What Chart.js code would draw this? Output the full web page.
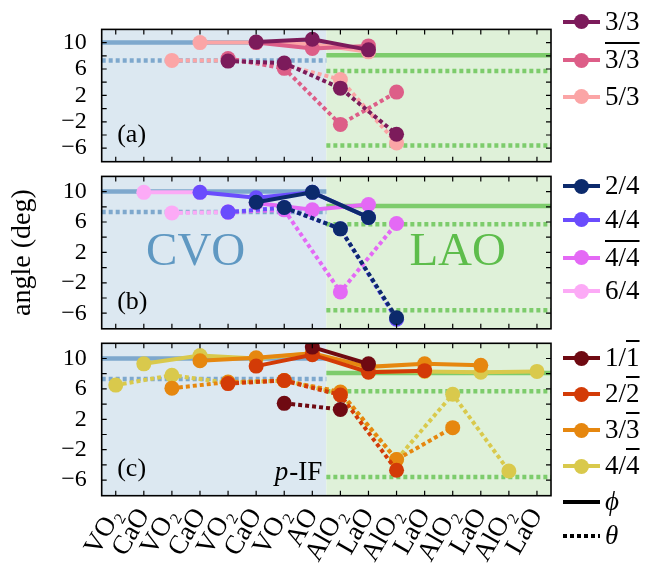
<!DOCTYPE html>
<html><head><meta charset="utf-8">
<script src="https://cdn.jsdelivr.net/npm/chart.js@4.4.1/dist/chart.umd.min.js"></script>
<style>
html,body{margin:0;padding:0;background:#fff;}
#wrap{position:relative;width:648px;height:563px;overflow:hidden;font-family:"Liberation Serif",serif;}
canvas{position:absolute;left:0;top:0;}
.lg{position:absolute;left:563px;height:0;width:85px;}
.lg .ln{position:absolute;left:0;top:-2px;width:37px;height:4px;}
.lg .dot{position:absolute;left:11px;top:-7.5px;width:15px;height:15px;border-radius:50%;}
.lg .tx{position:absolute;left:42px;top:-17px;font-size:27px;line-height:32px;white-space:nowrap;color:#000;}
.ov{text-decoration:overline;text-decoration-thickness:1.5px;}
.it{font-style:italic;}
</style>
</head><body>
<div id="wrap">
<canvas id="cA" width="648" height="563"></canvas>
<canvas id="cB" width="648" height="563"></canvas>
<canvas id="cC" width="648" height="563"></canvas>
<div id="legend"></div>
</div>
<script>
// ---------- data ----------
const _ = null;
const xLabels = ['VO₂','CaO','VO₂','CaO','VO₂','CaO','VO₂','AO','AlO₂','LaO','AlO₂','LaO','AlO₂','LaO','AlO₂','LaO'];
const yTickValues = [-6, -2, 2, 6, 10];
const yMinorValues = [-6, -4, -2, 0, 2, 4, 6, 8, 10];
// bulk reference angles
const cvoPhi = 10.0, cvoTheta = 7.3;
const laoPhi = 8.1, laoThetaPos = 5.7, laoThetaNeg = -5.6;

// panel (a)               0  1  2   3    4    5    6    7    8    9    10  11 12 13 14 15
const a33Phi      = [_, _, _,   _,   _, 10.1,   _, 10.5,   _,  8.9,    _, _, _, _, _, _];
const a33Theta    = [_, _, _,   _, 7.2,    _, 6.9,    _, 3.1,    _, -3.9, _, _, _, _, _];
const a33bPhi     = [_, _, _,   _,   _, 10.0,   _,  9.1,   _,  9.5,    _, _, _, _, _, _];
const a33bTheta   = [_, _, _,   _, 7.6,    _, 6.1,    _,-2.4,    _,  2.5, _, _, _, _, _];
const a53Phi      = [_, _, _,10.0,   _, 10.0,   _,  9.8,   _,  8.6,    _, _, _, _, _, _];
const a53Theta    = [_, _, 7.3, _, 7.3,    _, 6.6,    _, 4.4,    _, -5.2, _, _, _, _, _];

// panel (b)
const b24Phi      = [_, _, _,   _,   _,  8.6,   _,  9.9,   _,  6.6,    _, _, _, _, _, _];
const b24Theta    = [_, _, _,   _,   _,    _, 7.9,    _, 5.1,    _, -6.6, _, _, _, _, _];
const b44Phi      = [_, _, _, 9.9,   _,  9.2,   _,  9.9,   _,  6.6,    _, _, _, _, _, _];
const b44Theta    = [_, _, _,   _, 7.3,    _, 7.9,    _, 5.1,    _, -6.8, _, _, _, _, _];
const b44bPhi     = [_, _, _,   _,   _,  8.5,   _,  7.6,   _,  8.3,    _, _, _, _, _, _];
const b44bTheta   = [_, _, _,   _, 7.3,    _, 7.6,    _,-3.2,    _,  5.8, _, _, _, _, _];
const b64Phi      = [_, 9.9, _, 9.9, _,    _,   _,    _,   _,    _,    _, _, _, _, _, _];
const b64Theta    = [_, _, 7.2, _, 7.3,    _,   _,    _,   _,    _,    _, _, _, _, _, _];

// panel (c)
const c11Phi      = [_, _, _,   _,   _,    _,   _, 11.5,   _,  9.3,    _, _, _, _, _, _];
const c11Theta    = [_, _, _,   _,   _,    _, 4.1,    _, 3.3,    _,    _, _, _, _, _, _];
const c22Phi      = [_, _, _,   _,   _,  9.0,   _, 10.5,   _,  8.2,    _, 8.4, _, _, _, _];
const c22Theta    = [_, _, _,   _, 6.7,    _, 7.1,    _, 5.2,    _, -4.7, _, _, _, _, _];
const c33Phi      = [_, _, _, 9.7,   _, 10.1,   _, 10.7,   _,  8.9,    _, 9.3, _, 9.1, _, _];
const c33Theta    = [_, _, 6.1, _, 6.9,    _, 7.1,    _, 5.6,    _, -3.3, _, 0.9, _, _, _];
const c44Phi      = [_, 9.3, _,10.4, _, 10.0,   _, 10.7,   _,  8.3,    _, 8.3, _, 8.2, _, 8.3];
const c44Theta    = [6.5, _, 7.8, _, 6.8,  _, 7.1,    _, 5.4,    _, -3.3, _, 5.3, _, -4.8, _];

// ---------- series ----------
const seriesA = [
  {label:'3/3', color:'#7c1b5b', phi:a33Phi, theta:a33Theta},
  {label:'<span class="ov">3/3</span>', color:'#dd5e88', phi:a33bPhi, theta:a33bTheta},
  {label:'5/3', color:'#fba5a6', phi:a53Phi, theta:a53Theta}
];
const seriesB = [
  {label:'2/4', color:'#0c2a6c', phi:b24Phi, theta:b24Theta},
  {label:'4/4', color:'#6a4cfd', phi:b44Phi, theta:b44Theta},
  {label:'<span class="ov">4/4</span>', color:'#e469f5', phi:b44bPhi, theta:b44bTheta},
  {label:'6/4', color:'#fcaaf6', phi:b64Phi, theta:b64Theta}
];
const seriesC = [
  {label:'1/<span class="ov">1</span>', color:'#6f0a12', phi:c11Phi, theta:c11Theta},
  {label:'2/<span class="ov">2</span>', color:'#d33b07', phi:c22Phi, theta:c22Theta},
  {label:'3/<span class="ov">3</span>', color:'#e6870f', phi:c33Phi, theta:c33Theta},
  {label:'4/<span class="ov">4</span>', color:'#d9c94c', phi:c44Phi, theta:c44Theta}
];

// ---------- styling ----------
const FONT = '"Liberation Serif", serif';
const CVO_BG = '#dce8f1', LAO_BG = '#dff1d9';
const CVO_LINE = '#7ea8cd', LAO_LINE = '#7dcc6c';
const DOT = [4, 3];

function pts(arr){ return arr.map((v,i)=> v==null ? null : {x:i, y:v}).filter(Boolean); }

function refSets(){
  const mk = (x0,x1,y,color,dash)=>({data:[{x:x0,y:y},{x:x1,y:y}], borderColor:color, borderWidth:4.5,
    borderDash:dash||[], pointRadius:0, order:100, clip:0, borderCapStyle:'butt'});
  return [
    mk(-0.5, 7.5, cvoPhi, CVO_LINE),
    mk(-0.5, 7.5, cvoTheta, CVO_LINE, DOT),
    mk(7.5, 15.5, laoPhi, LAO_LINE),
    mk(7.5, 15.5, laoThetaPos, LAO_LINE, DOT),
    mk(7.5, 15.5, laoThetaNeg, LAO_LINE, DOT)
  ];
}
function seriesSets(list){
  const out = [];
  list.forEach((s,k)=>{
    const base = {borderColor:s.color, backgroundColor:s.color, pointBackgroundColor:s.color,
      borderWidth:4, pointRadius:7.5, pointHoverRadius:7.5, pointBorderWidth:0, clip:0, tension:0};
    out.push(Object.assign({}, base, {data:pts(s.phi), order:k*2+1}));
    out.push(Object.assign({}, base, {data:pts(s.theta), order:k*2+2, borderDash:DOT, borderCapStyle:'butt'}));
  });
  return out;
}

const panelPlugin = {
  id:'panel',
  beforeDatasetsDraw(chart, args, opts){
    const {ctx, chartArea:{left,right,top,bottom}} = chart;
    const xs = chart.scales.x;
    const xb = xs.getPixelForValue(7.5);
    ctx.save();
    ctx.fillStyle = CVO_BG; ctx.fillRect(left, top, xb-left, bottom-top);
    ctx.fillStyle = LAO_BG; ctx.fillRect(xb, top, right-xb, bottom-top);
    ctx.textBaseline = 'alphabetic';
    ctx.fillStyle = '#000'; ctx.font = '26px ' + FONT; ctx.textAlign = 'left';
    ctx.fillText(opts.tag, left + 15.5, bottom - 20);
    if (opts.region){
      ctx.font = '47px ' + FONT; ctx.textAlign = 'center';
      ctx.fillStyle = '#5f98c2'; ctx.fillText('CVO', left + 94, top + 88.5);
      ctx.fillStyle = '#5dbd4b'; ctx.fillText('LAO', left + 356, top + 88.5);
    }
    if (opts.pif){
      ctx.fillStyle = '#000';
      ctx.font = '27px ' + FONT;
      const rest = '-IF';
      const wr = ctx.measureText(rest).width;
      ctx.textAlign = 'right';
      const xr = xb - 4;
      ctx.fillText(rest, xr, bottom - 16);
      ctx.font = 'italic 27px ' + FONT;
      ctx.fillText('p', xr - wr - 1, bottom - 16);
    }
    ctx.restore();
  },
  afterDatasetsDraw(chart){
    const {ctx, chartArea:{left,right,top,bottom}, scales:{x,y}} = chart;
    ctx.save();
    ctx.strokeStyle = '#000'; ctx.lineWidth = 1.2;
    ctx.beginPath();
    xLabels.forEach((_,i)=>{
      const px = x.getPixelForValue(i);
      ctx.moveTo(px, bottom); ctx.lineTo(px, bottom-5);
      ctx.moveTo(px, top); ctx.lineTo(px, top+5);
    });
    yMinorValues.forEach(v=>{
      const py = y.getPixelForValue(v);
      ctx.moveTo(left, py); ctx.lineTo(left+5, py);
      ctx.moveTo(right, py); ctx.lineTo(right-5, py);
    });
    ctx.stroke();
    ctx.lineWidth = 1.6;
    ctx.strokeRect(left, top, right-left, bottom-top);
    ctx.restore();
  }
};

function makePanel(id, series, cfg){
  const yAxis = {
    type:'linear', min:-8.05, max:12, position:'left',
    grid:{display:false, drawTicks:false}, border:{display:false},
    afterBuildTicks: s => { s.ticks = yTickValues.map(v=>({value:v})); },
    afterFit: s => { s.width = 101.7; },
    ticks:{padding:15, color:'#000', font:{family:FONT, size:24},
      callback: v => v < 0 ? '\u2212' + Math.abs(v) : String(v)},
    title: cfg.yTitle ? {display:true, text:'angle (deg)', color:'#000', font:{family:FONT, size:28}, padding:{top:6, bottom:0}} : {display:false}
  };
  const xAxis = {
    type:'linear', min:-0.5, max:15.5, position:'bottom', display: !!cfg.xLabels,
    grid:{display:false, drawTicks:false}, border:{display:false},
    afterBuildTicks: s => { s.ticks = xLabels.map((_,i)=>({value:i})); },
    afterFit: s => { s.height = cfg.xLabels ? 67.3 : 0; },
    ticks:{autoSkip:false, minRotation:60, maxRotation:60, padding:7, color:'#000',
      font:{family:FONT, size:27}, callback: v => xLabels[v]}
  };
  return new Chart(document.getElementById(id), {
    type:'line',
    data:{datasets: refSets().concat(seriesSets(series))},
    options:{
      responsive:false, animation:false, events:[],
      layout:{autoPadding:false, padding:{left:0, right:97, top:cfg.top, bottom:cfg.bottom}},
      plugins:{legend:{display:false}, tooltip:{enabled:false},
        panel:{tag:cfg.tag, region:!!cfg.region, pif:!!cfg.pif}},
      scales:{x:xAxis, y:yAxis}
    },
    plugins:[panelPlugin]
  });
}

makePanel('cA', seriesA, {top:9.3, bottom:401.3, tag:'(a)'});
makePanel('cB', seriesB, {top:176.4, bottom:234.2, tag:'(b)', region:true, yTitle:true});
makePanel('cC', seriesC, {top:343.3, bottom:0, tag:'(c)', pif:true, xLabels:true});

// ---------- legend (HTML) ----------
const legendRows = [
  [seriesA, [21.7, 60, 96.7]],
  [seriesB, [186, 219.5, 257.5, 291]],
  [seriesC, [358, 394, 430, 466]]
];
const lg = document.getElementById('legend');
legendRows.forEach(([list, ys])=>{
  list.forEach((s,k)=>{
    const d = document.createElement('div');
    d.className = 'lg'; d.style.top = ys[k] + 'px';
    d.innerHTML = '<div class="ln" style="background:'+s.color+'"></div><div class="dot" style="background:'+s.color+'"></div><div class="tx">'+s.label+'</div>';
    lg.appendChild(d);
  });
});
[['\u03D5', 502, 'solid'], ['\u03B8', 536, 'dotted']].forEach(([t, y, style])=>{
  const d = document.createElement('div');
  d.className = 'lg'; d.style.top = y + 'px';
  const line = style === 'solid'
    ? '<div class="ln" style="background:#000"></div>'
    : '<div class="ln" style="background:repeating-linear-gradient(90deg,#000 0 4px,transparent 4px 7px)"></div>';
  d.innerHTML = line + '<div class="tx it">'+t+'</div>';
  lg.appendChild(d);
});
</script>
</body></html>
